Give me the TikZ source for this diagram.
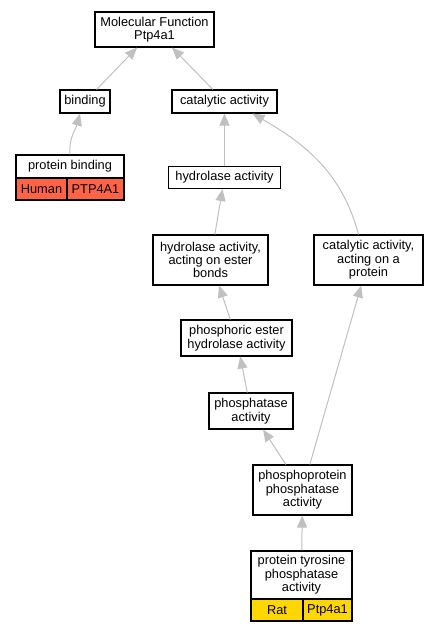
\documentclass[tikz,border=0pt]{standalone}
\usepackage{fontspec}
\setmainfont{Liberation Sans}
\usetikzlibrary{arrows.meta}
\definecolor{humancol}{HTML}{FF6347}
\definecolor{ratcol}{HTML}{FFD700}
\definecolor{edgegray}{HTML}{C0C0C0}
\begin{document}
\begin{tikzpicture}[x=1pt,y=-1pt]
  \tikzstyle{every node}=[draw, line width=1.1pt, inner sep=0pt, align=center,
    font=\fontsize{12.8}{13.4}\selectfont]
  \tikzstyle{go}=[edgegray, line width=1pt, -{Triangle[length=12pt,width=10pt]}]
  \useasboundingbox (0,0) rectangle (437,632);

  \node[minimum width=119, minimum height=35] (mf) at (154.5,29.5) {Molecular Function\\Ptp4a1};
  \node[minimum width=50, minimum height=23] (bind) at (85,101.5) {binding};
  \node[minimum width=105, minimum height=23] (cat) at (224.5,101.5) {catalytic activity};
  \node[minimum width=108, minimum height=23] (pbind) at (70,166.5) {protein binding};
  \node[fill=humancol, minimum width=51, minimum height=22] (pbhuman) at (41.5,189) {Human};
  \node[fill=humancol, minimum width=57, minimum height=22] (pbgene) at (95.5,189) {PTP4A1};
  \node[minimum width=112, minimum height=22] (hyd) at (224.5,177.5) {hydrolase activity};
  \node[minimum width=115, minimum height=50] (hydester) at (210.5,260) {hydrolase activity,\\acting on ester\\bonds};
  \node[minimum width=109, minimum height=50] (catprot) at (368.5,260) {catalytic activity,\\acting on a\\protein};
  \node[minimum width=111, minimum height=36] (phosest) at (236.5,338) {phosphoric ester\\hydrolase activity};
  \node[minimum width=84, minimum height=36] (phos) at (251,411) {phosphatase\\activity};
  \node[minimum width=99, minimum height=50] (pprot) at (302.5,490) {phosphoprotein\\phosphatase\\activity};
  \node[minimum width=101, minimum height=48] (ptyr) at (301.5,575) {protein tyrosine\\phosphatase\\activity};
  \node[fill=ratcol, minimum width=52, minimum height=22] (ptyrrat) at (277,610) {Rat};
  \node[fill=ratcol, minimum width=49, minimum height=22] (ptyrgene) at (327.5,610) {Ptp4a1};

  \draw[go] (bind) -- (mf);
  \draw[go] (cat) -- (mf);
  \draw[go] (pbind.north) to[out=95,in=-105] ([xshift=-5pt]bind.south);
  \draw[go] (hyd) -- (cat);
  \draw[go] ([xshift=-10pt]catprot.north) to[out=105,in=-30] ([xshift=28pt]cat.south);
  \draw[go] (hydester) -- (hyd);
  \draw[go] (phosest) -- (hydester);
  \draw[go] (phos) -- (phosest);
  \draw[go] (pprot) -- (phos);
  \draw[go] (pprot) -- (catprot);
  \draw[go] (ptyr) -- (pprot);
\end{tikzpicture}
\end{document}
